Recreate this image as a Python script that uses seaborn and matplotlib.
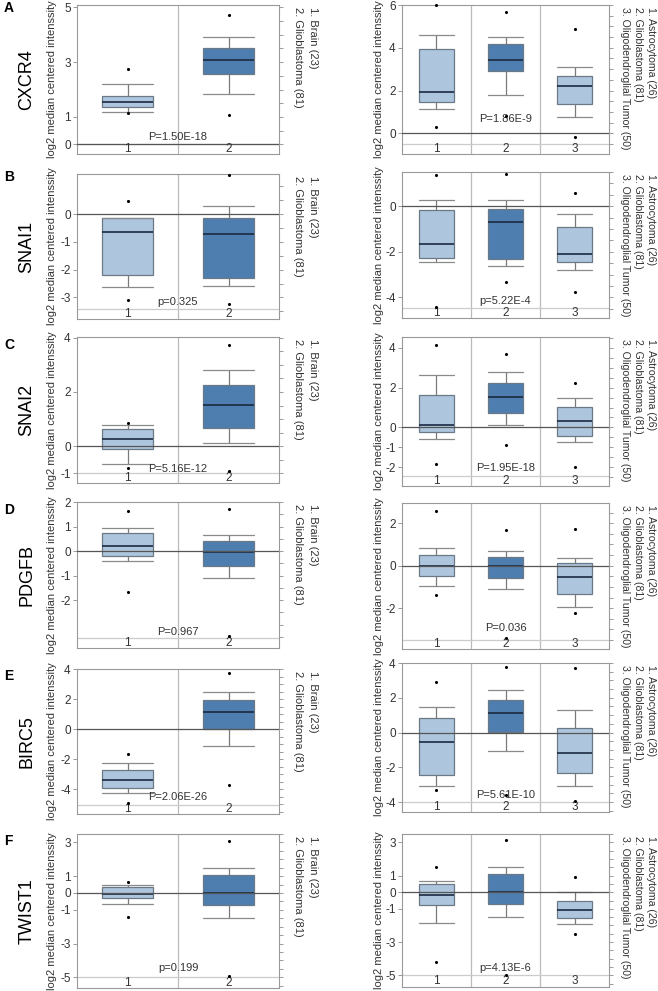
import numpy as np
import pandas as pd
import matplotlib.pyplot as plt
import seaborn as sns
from matplotlib.ticker import MultipleLocator

sns.set_theme(style='white')
plt.rcParams['font.family'] = ['Liberation Sans', 'DejaVu Sans']
plt.rcParams['axes.unicode_minus'] = False

# --- data ---
genes = ['CXCR4', 'SNAI1', 'SNAI2', 'PDGFB', 'BIRC5', 'TWIST1']
letters = ['A', 'B', 'C', 'D', 'E', 'F']
left_groups = ['1. Brain (23)', '2. Glioblastoma (81)']
right_groups = ['1. Astrocytoma (26)', '2. Glioblastoma (81)', '3. Oligodendroglial Tumor (50)']
p_left = ['P=1.50E-18', 'p=0.325', 'P=5.16E-12', 'P=0.967', 'P=2.06E-26', 'p=0.199']
p_right = ['P=1.86E-9', 'p=5.22E-4', 'P=1.95E-18', 'P=0.036', 'P=5.61E-10', 'p=4.13E-6']

# each group: [min dot, whisker low, q1, median, q3, whisker high, max dot]
cxcr4_left = [[1.15, 1.19, 1.35, 1.53, 1.75, 2.19, 2.73],
              [1.08, 1.83, 2.55, 3.07, 3.51, 3.90, 4.73]]
cxcr4_right = [[0.28, 1.14, 1.45, 1.92, 3.93, 4.60, 6.00],
               [0.80, 1.79, 2.91, 3.41, 4.16, 4.49, 5.69],
               [-0.16, 0.78, 1.36, 2.20, 2.68, 3.12, 4.86]]
snai1_left = [[-3.08, -2.63, -2.19, -0.66, -0.14, -0.14, 0.48],
              [-3.23, -2.58, -2.29, -0.70, -0.12, 0.28, 1.40]]
snai1_right = [[-4.40, -2.46, -2.28, -1.67, -0.17, 0.26, 1.35],
               [-3.30, -2.60, -2.30, -0.71, -0.10, 0.29, 1.40],
               [-3.77, -2.81, -2.46, -2.11, -0.90, -0.36, 0.58]]
snai2_left = [[-0.79, -0.64, -0.09, 0.28, 0.65, 0.77, 0.86],
              [-0.91, 0.12, 0.69, 1.52, 2.27, 2.82, 3.72]]
snai2_right = [[-1.85, -0.60, -0.25, 0.13, 1.65, 2.65, 4.12],
               [-0.88, 0.13, 0.70, 1.53, 2.23, 2.78, 3.70],
               [-2.00, -0.75, -0.42, 0.32, 1.05, 1.48, 2.25]]
pdgfb_left = [[-1.65, -0.39, -0.22, 0.19, 0.72, 0.96, 1.64],
              [-3.46, -1.11, -0.62, -0.03, 0.42, 0.66, 1.73]]
pdgfb_right = [[-1.36, -0.94, -0.47, 0.00, 0.49, 0.83, 2.56],
               [-3.40, -1.10, -0.58, -0.02, 0.41, 0.67, 1.69],
               [-2.23, -1.95, -1.32, -0.52, 0.13, 0.36, 1.74]]
birc5_left = [[-4.89, -4.27, -3.93, -3.38, -2.71, -2.22, -1.67],
              [-3.71, -1.11, 0.00, 1.11, 1.91, 2.44, 3.73]]
birc5_right = [[-3.30, -3.05, -2.44, -0.57, 0.86, 1.47, 2.90],
               [-3.58, -1.07, 0.04, 1.10, 1.89, 2.46, 3.75],
               [-3.96, -3.10, -2.34, -1.16, 0.29, 1.28, 3.71]]
twist1_left = [[-1.45, -0.65, -0.30, -0.04, 0.36, 0.46, 0.65],
               [-4.95, -1.49, -0.73, 0.00, 1.09, 1.49, 3.11]]
twist1_right = [[-4.22, -1.87, -0.76, -0.16, 0.48, 0.70, 1.51],
                [-5.00, -1.47, -0.72, 0.00, 1.09, 1.51, 3.12],
                [-2.51, -1.91, -1.57, -1.07, -0.52, 0.04, 0.90]]

left_stats = [cxcr4_left, snai1_left, snai2_left, pdgfb_left, birc5_left, twist1_left]
right_stats = [cxcr4_right, snai1_right, snai2_right, pdgfb_right, birc5_right, twist1_right]

# --- layout (pixels) ---
W, H = 658, 991
left_boxes = [(77, 5, 279, 154), (77, 174, 279, 319), (77, 337, 279, 483),
              (77, 502, 279, 648), (77, 669, 279, 814), (77, 834, 279, 988)]
right_boxes = [(402, 5, 609, 154), (402, 172, 609, 318), (402, 337, 609, 486),
               (402, 503, 609, 649), (402, 663, 609, 812), (402, 834, 609, 987)]
left_ylim = [(-0.35, 5.08), (-3.78, 1.45), (-1.35, 4.02), (-3.95, 1.97), (-5.64, 4.0), (-5.64, 3.5)]
right_ylim = [(-0.97, 6.0), (-4.9, 1.5), (-2.93, 4.53), (-3.92, 2.95), (-4.57, 3.98), (-5.7, 3.5)]
left_strip = [0.0, -3.42, -0.98, -3.54, -5.04, -5.0]
right_strip = [-0.5, -4.47, -2.43, -3.48, -4.0, -5.0]
left_ticks = [[0, 1, 3, 5], [-3, -2, -1, 0], [-1, 0, 2, 4], [-2, -1, 0, 1, 2],
              [-4, -2, 0, 2, 4], [-5, -3, -1, 0, 1, 3]]
right_ticks = [[0, 2, 4, 6], [-4, -2, 0], [-2, -1, 0, 2, 4], [-2, 0, 2],
               [-4, -2, 0, 2, 4], [-5, -3, -1, 0, 1, 3]]
left_py = [0.28, -3.16, -0.82, -3.30, -4.49, -4.46]
right_py = [0.65, -4.17, -2.05, -2.93, -3.58, -4.58]
letter_y = [8, 177, 345, 510, 676, 841]

light = '#aec5de'
dark = '#4d7eaf'
edge = '#6b7886'

fig = plt.figure(figsize=(W / 100, H / 100), dpi=100)


def fx(x):
    return x / W


def fy(y):
    return 1 - y / H


def draw_panel(box, stats, ylim, strip, yticks, ptext, py, legend, leg_x, leg_fs, lab_x):
    l, t, r, b = box
    ax = fig.add_axes([fx(l), fy(b), (r - l) / W, (b - t) / H])
    n = len(stats)
    pos = np.arange(1, n + 1)
    bstats = [dict(whislo=s[1], q1=s[2], med=s[3], q3=s[4], whishi=s[5]) for s in stats]
    art = ax.bxp(bstats, positions=pos, widths=0.5, capwidths=0.5, patch_artist=True,
                 showfliers=False,
                 boxprops=dict(edgecolor=edge, linewidth=0.9),
                 medianprops=dict(color='#1a2a40', linewidth=1.2),
                 whiskerprops=dict(color='#7a7a7a', linewidth=0.9),
                 capprops=dict(color='#8a8a8a', linewidth=0.9), zorder=2)
    for i, patch in enumerate(art['boxes']):
        patch.set_facecolor(dark if i == 1 else light)

    dots = pd.DataFrame({'x': np.repeat(pos, 2),
                         'y': [v for s in stats for v in (s[0], s[6])]})
    sns.scatterplot(data=dots, x='x', y='y', ax=ax, color='black', s=5,
                    linewidth=0, zorder=6, clip_on=False, legend=False)

    ax.axhline(0, color='#555555', lw=0.9, zorder=3)
    ax.axhline(strip, color='#cccccc', lw=0.9, zorder=1)
    for d in range(1, n):
        ax.axvline(d + 0.5, color='#bbbbbb', lw=0.9, zorder=0)

    ax.set_xlim(0.5, n + 0.5)
    ax.set_ylim(*ylim)
    ax.set_xlabel('')
    ax.set_ylabel('')
    ax.set_xticks([])
    ax.set_yticks(yticks)
    ax.yaxis.set_minor_locator(MultipleLocator(0.5))
    ax.tick_params(axis='y', which='major', left=True, right=True, length=3,
                   width=0.7, color='#999999', labelsize=8.5, labelcolor='#333333', pad=1.5)
    ax.tick_params(axis='y', which='minor', left=False, right=True, length=3,
                   width=0.7, color='#999999')
    for sp in ax.spines.values():
        sp.set_color('#999999')
        sp.set_linewidth(0.8)

    # group numbers in the bottom strip
    for p in pos:
        ax.text(p, (ylim[0] + strip) / 2, str(p), ha='center', va='center',
                fontsize=8.5, color='#333333')
    ax.text((n + 1) / 2, py, ptext, ha='center', va='center', fontsize=8,
            color='#333333', zorder=4)

    # y label and legend (rotated)
    yc = (t + b) / 2
    fig.text(fx(lab_x), fy(yc), 'log2 median centered intenssity', rotation=90,
             ha='center', va='center', fontsize=8, color='#333333')
    for txt, x in zip(legend, leg_x):
        fig.text(fx(x), fy(t + 2), txt, rotation=270, ha='center', va='top',
                 fontsize=leg_fs, color='#333333')
    return ax


for i in range(6):
    l, t, r, b = left_boxes[i]
    fig.text(fx(4), fy(letter_y[i]), letters[i], ha='left', va='center',
             fontsize=10, fontweight='bold', color='black')
    fig.text(fx(27), fy((t + b) / 2), genes[i], rotation=90, ha='center',
             va='center', fontsize=13, color='black')
    draw_panel(left_boxes[i], left_stats[i], left_ylim[i], left_strip[i],
               left_ticks[i], p_left[i], left_py[i], left_groups, [313, 298], 8, 52)
    draw_panel(right_boxes[i], right_stats[i], right_ylim[i], right_strip[i],
               right_ticks[i], p_right[i], right_py[i], right_groups,
               [651, 638, 625], 7.6, 379)

fig.savefig('out.png', dpi=100)
